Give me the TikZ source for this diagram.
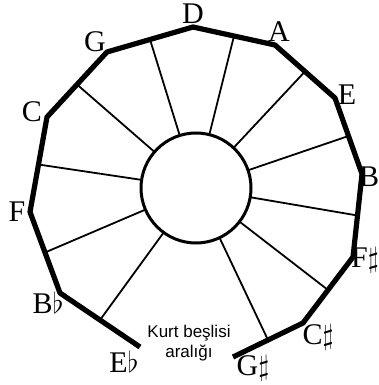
\documentclass[tikz,border=0pt]{standalone}
\usepackage{fontspec}
\newfontfamily\notesans{Liberation Sans}
\newfontfamily\noteserif{Liberation Serif}
\usepackage{tikz}
\usetikzlibrary{calc}

\begin{document}
\begin{tikzpicture}[
        x=0.5pt, y=-0.5pt,
        rim_style/.style={line width=2.6pt, line join=round},
        spoke_style/.style={line width=0.9pt},
        note_style/.style={font=\noteserif\fontsize{15}{15}\selectfont, inner sep=0pt}
    ]
    \useasboundingbox (0,0) rectangle (379,385);

    % =========================================================================
    % 1. OUTER RING CORNERS (circle of fifths, open between Eb and G#)
    % =========================================================================
    \coordinate (Eb) at (140, 347);
    \coordinate (Bb) at (60, 293);
    \coordinate (F)  at (30, 212);
    \coordinate (C)  at (47, 117);
    \coordinate (G)  at (107, 52);
    \coordinate (D)  at (193, 27);
    \coordinate (A)  at (275, 45);
    \coordinate (E)  at (335, 98);
    \coordinate (B)  at (362, 174);
    \coordinate (Fs) at (353, 257);
    \coordinate (Cs) at (303, 323);
    \coordinate (Gs) at (233, 357);

    \draw[rim_style] (Eb) -- (Bb) -- (F) -- (C) -- (G) -- (D) -- (A)
        -- (E) -- (B) -- (Fs) -- (Cs) -- (Gs);

    % =========================================================================
    % 2. HUB AND SPOKES (to the middle of each ring side)
    % =========================================================================
    \node[circle, draw, line width=1.5pt, minimum size=55pt, inner sep=0pt, outer sep=0pt] (hub) at (196, 188) {};

    \coordinate (m1)  at ($(Eb)!0.5!(Bb)$);
    \coordinate (m2)  at ($(Bb)!0.5!(F)$);
    \coordinate (m3)  at ($(F)!0.5!(C)$);
    \coordinate (m4)  at ($(C)!0.5!(G)$);
    \coordinate (m5)  at ($(G)!0.5!(D)$);
    \coordinate (m6)  at ($(D)!0.5!(A)$);
    \coordinate (m7)  at ($(A)!0.5!(E)$);
    \coordinate (m8)  at ($(E)!0.5!(B)$);
    \coordinate (m9)  at ($(B)!0.5!(Fs)$);
    \coordinate (m10) at ($(Fs)!0.5!(Cs)$);
    \coordinate (m11) at ($(Cs)!0.5!(Gs)$);

    \draw[spoke_style] (hub) -- (m1);
    \draw[spoke_style] (hub) -- (m2);
    \draw[spoke_style] (hub) -- (m3);
    \draw[spoke_style] (hub) -- (m4);
    \draw[spoke_style] (hub) -- (m5);
    \draw[spoke_style] (hub) -- (m6);
    \draw[spoke_style] (hub) -- (m7);
    \draw[spoke_style] (hub) -- (m8);
    \draw[spoke_style] (hub) -- (m9);
    \draw[spoke_style] (hub) -- (m10);
    \draw[spoke_style] (hub) -- (m11);

    % =========================================================================
    % 3. NOTE NAMES
    % =========================================================================
    \node[note_style] (lD)  at (193, 14)  {D};
    \node[note_style] (lA)  at (279, 32)  {A};
    \node[note_style] (lE)  at (347, 95)  {E};
    \node[note_style] (lB)  at (369, 177) {B};
    \node[note_style] (lFs) at (365, 260) {F$\sharp$};
    \node[note_style] (lCs) at (318, 337) {C$\sharp$};
    \node[note_style] (lGs) at (253, 368) {G$\sharp$};
    \node[note_style] (lEb) at (124, 362) {E$\flat$};
    \node[note_style] (lBb) at (48, 303)  {B$\flat$};
    \node[note_style] (lF)  at (17, 212)  {F};
    \node[note_style] (lC)  at (32, 112)  {C};
    \node[note_style] (lG)  at (95, 42)   {G};

    % =========================================================================
    % 4. WOLF FIFTH NOTE
    % =========================================================================
    \node[font=\notesans\fontsize{8.5}{10}\selectfont, align=center, inner sep=0pt] (wolf) at (189, 343)
        {Kurt beşlisi\\aralığı};

    \end{tikzpicture}
\end{document}
